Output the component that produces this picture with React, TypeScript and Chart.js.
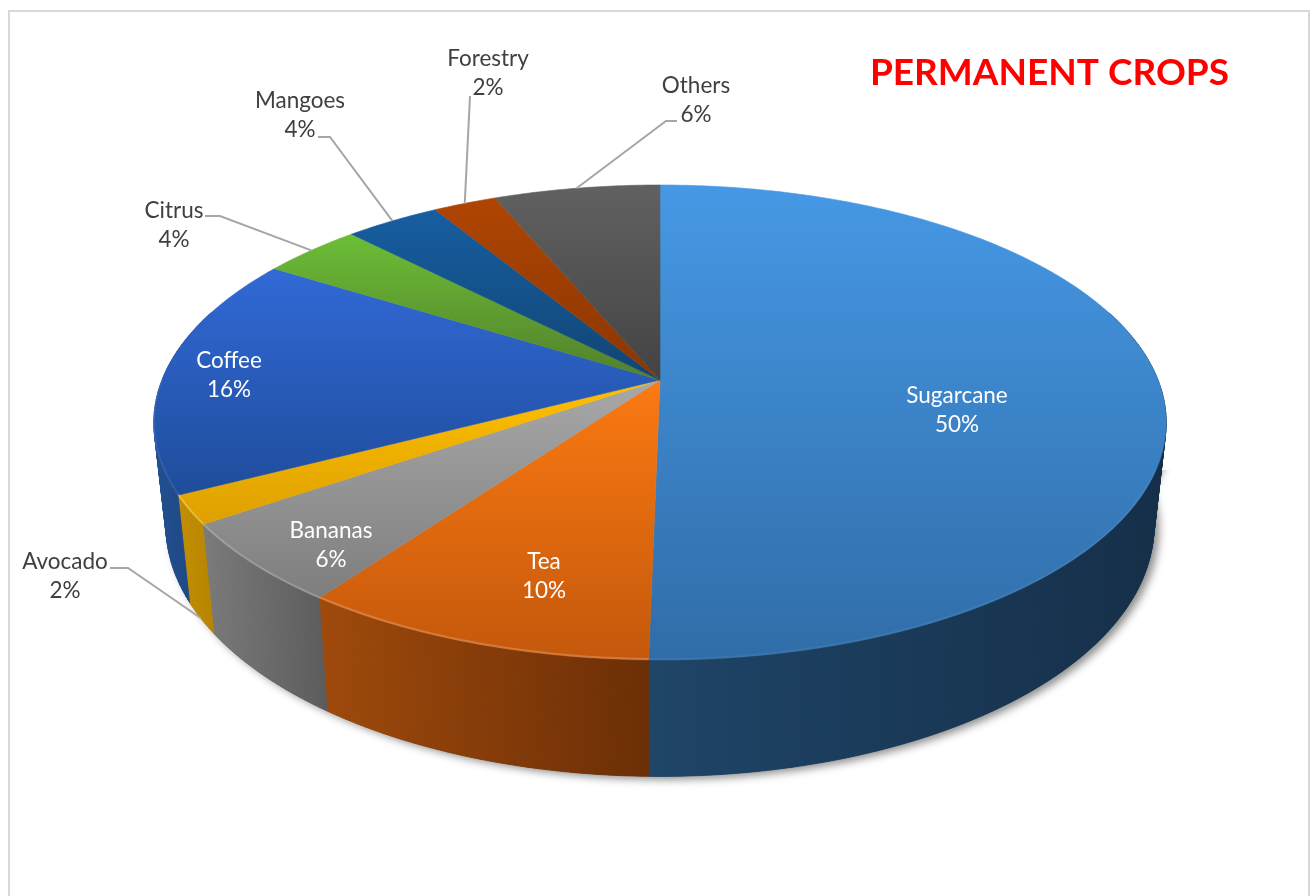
import React, { useEffect, useRef } from "react";
import { Chart, registerables } from "chart.js";

Chart.register(...registerables);

const categories = ["Sugarcane", "Tea", "Bananas", "Avocado", "Coffee", "Citrus", "Mangoes", "Forestry", "Others"];
const shares = [50.3, 9.65, 5.5, 1.95, 16.49, 3.8, 3.6, 2.4, 6.31];
const shownPercents = [50, 10, 6, 2, 16, 4, 4, 2, 6];
const topLight = ["#4698E5", "#FB7A12", "#A8A8A8", "#FFC000", "#3169D6", "#6CBE36", "#175EA1", "#B04502", "#616161"];
const topDark = ["#306DA8", "#C4580C", "#7E7E7E", "#DDA000", "#1F4D9C", "#527F2B", "#114573", "#8A3602", "#434343"];
const wallLight = ["#1F4568", "#A04A0C", "#7C7C7C", "#C69100", "#21508F", "#3F6A20", "#0E3A60", "#6F2B02", "#3A3A3A"];
const wallDark = ["#152F49", "#6C2F06", "#5C5C5C", "#B88600", "#1C4384", "#3F6A20", "#0E3A60", "#6F2B02", "#3A3A3A"];
const rimAlpha = [0.05, 0.2, 0.18, 0.25, 0.08, 0, 0, 0, 0];

const TITLE = "PERMANENT CROPS";
const LABEL_FONT = '22.5px Lato, "Open Sans", sans-serif';

// label placement: centre of the two-line block, and elbow of the leader line if any
const labelBoxes = [
  { x: 957, y: 410, inside: true },
  { x: 544, y: 576, inside: true },
  { x: 331, y: 545, inside: true },
  { x: 65, y: 576.5, inside: false, leader: [[110, 568], [128, 568]], onBase: true },
  { x: 229, y: 375.5, inside: true },
  { x: 174, y: 225, inside: false, leader: [[205, 216], [220, 216]] },
  { x: 300, y: 115, inside: false, leader: [[318, 137], [330, 137]] },
  { x: 488, y: 73, inside: false, leader: [[470, 96]] },
  { x: 696, y: 100, inside: false, leader: [[677, 121], [666, 121]] },
];

// perspective of the disc: apex position and projection constants
const AX = 660, AY = 380, PA = 229.9, PC = 0.179, PD = 498;
const BASE_SX = 0.976, BASE_SY = 1.055, BASE_Y = 481;

const project = (a: number) => {
  const u = Math.sin(a), v = Math.cos(a), w = 1 + PC * v;
  return { X: (PD * u) / w, Y: (-PA * v) / w };
};
const top = (a: number) => {
  const p = project(a);
  return [AX + p.X, AY + p.Y];
};
const base = (a: number) => {
  const p = project(a);
  return [AX + BASE_SX * p.X, BASE_Y + BASE_SY * p.Y];
};
const samples = (s: number, e: number) => {
  const n = Math.max(4, Math.ceil((e - s) * 90));
  const out: number[] = [];
  for (let i = 0; i <= n; i++) out.push(s + ((e - s) * i) / n);
  return out;
};
const quad = (ctx: any, a: number, b: number) => {
  const t0 = top(a), t1 = top(b), b1 = base(b), b0 = base(a);
  ctx.moveTo(t0[0], t0[1]);
  ctx.lineTo(t1[0], t1[1]);
  ctx.lineTo(b1[0], b1[1]);
  ctx.lineTo(b0[0], b0[1]);
  ctx.closePath();
};
const FRONT_FROM = Math.PI * 0.4;
const FRONT_TO = Math.PI * 1.6;

const pie3d = {
  id: "pie3d",
  beforeDraw(chart: any) {
    const ctx = chart.ctx;
    ctx.save();
    ctx.fillStyle = "#ffffff";
    ctx.fillRect(0, 0, chart.width, chart.height);
    ctx.strokeStyle = "#d9d9d9";
    ctx.lineWidth = 2;
    ctx.strokeRect(9, 11, 1300, 1000);
    ctx.restore();
  },
  beforeDatasetsDraw(chart: any) {
    const ctx = chart.ctx;
    const arcs = chart.getDatasetMeta(0).data;
    const ang = arcs.map((el: any) => {
      const p = el.getProps(["startAngle", "endAngle"], true);
      return [p.startAngle + Math.PI / 2, p.endAngle + Math.PI / 2];
    });
    ctx.save();

    // drop shadow under the extruded front, only below the widest part of the wall
    ctx.save();
    ctx.beginPath();
    ctx.rect(0, 470, chart.width, chart.height);
    ctx.clip();
    ctx.shadowColor = "rgba(0,0,0,0.45)";
    ctx.shadowBlur = 9;
    ctx.shadowOffsetX = 5;
    ctx.shadowOffsetY = 3;
    ctx.fillStyle = "#333";
    ctx.beginPath();
    const ring = samples(FRONT_FROM, FRONT_TO);
    ring.forEach((a, k) => {
      const [x, y] = base(a);
      k ? ctx.lineTo(x, y) : ctx.moveTo(x, y);
    });
    ring.slice().reverse().forEach((a) => {
      const [x, y] = top(a);
      ctx.lineTo(x, y);
    });
    ctx.closePath();
    ctx.fill();
    ctx.restore();

    // side walls
    ang.forEach(([s, e]: number[], i: number) => {
      const from = Math.max(s, FRONT_FROM);
      const to = Math.min(e, FRONT_TO);
      if (to <= from) return;
      const pts = samples(from, to);
      let minX = Infinity, maxX = -Infinity;
      pts.forEach((a) => {
        const t = top(a), b = base(a);
        minX = Math.min(minX, t[0], b[0]);
        maxX = Math.max(maxX, t[0], b[0]);
      });
      const g = ctx.createLinearGradient(minX, 0, maxX, 0);
      g.addColorStop(0, wallLight[i]);
      g.addColorStop(1, wallDark[i]);
      ctx.fillStyle = g;
      ctx.strokeStyle = g;
      ctx.lineWidth = 0.7;
      for (let k = 0; k < pts.length - 1; k++) {
        ctx.beginPath();
        quad(ctx, pts[k], pts[k + 1]);
        ctx.fill();
        ctx.stroke();
      }
    });

    // top faces
    ang.forEach(([s, e]: number[], i: number) => {
      const pts = samples(s, e);
      let minY = AY, maxY = AY;
      pts.forEach((a) => {
        const y = top(a)[1];
        minY = Math.min(minY, y);
        maxY = Math.max(maxY, y);
      });
      const g = ctx.createLinearGradient(0, minY, 0, maxY);
      g.addColorStop(0, topLight[i]);
      g.addColorStop(1, topDark[i]);
      ctx.fillStyle = g;
      ctx.strokeStyle = g;
      ctx.lineWidth = 0.6;
      ctx.beginPath();
      ctx.moveTo(AX, AY);
      pts.forEach((a) => {
        const [x, y] = top(a);
        ctx.lineTo(x, y);
      });
      ctx.closePath();
      ctx.fill();
      ctx.stroke();
    });

    // soft bevel along the front rim
    ang.forEach(([s, e]: number[], i: number) => {
      const from = Math.max(s, Math.PI * 0.62);
      const to = Math.min(e, Math.PI * 1.5);
      if (to <= from || !rimAlpha[i]) return;
      ctx.strokeStyle = `rgba(255,255,255,${rimAlpha[i]})`;
      ctx.lineWidth = 2;
      ctx.beginPath();
      samples(from, to).forEach((a, k) => {
        const [x, y] = top(a);
        k ? ctx.lineTo(x, y - 1) : ctx.moveTo(x, y - 1);
      });
      ctx.stroke();
    });
    ctx.restore();
    return false;
  },
  afterDraw(chart: any) {
    const ctx = chart.ctx;
    const arcs = chart.getDatasetMeta(0).data;
    ctx.save();
    labelBoxes.forEach((box: any, i) => {
      if (box.leader) {
        const p = arcs[i].getProps(["startAngle", "endAngle"], true);
        const mid = (p.startAngle + p.endAngle) / 2 + Math.PI / 2;
        const end = box.onBase ? base(mid) : top(mid);
        ctx.strokeStyle = "#a6a6a6";
        ctx.lineWidth = 2;
        ctx.beginPath();
        box.leader.forEach(([x, y]: number[], k: number) => (k ? ctx.lineTo(x, y) : ctx.moveTo(x, y)));
        ctx.lineTo(end[0], end[1]);
        ctx.stroke();
      }
      ctx.font = LABEL_FONT;
      ctx.textAlign = "center";
      ctx.textBaseline = "middle";
      ctx.fillStyle = box.inside ? "#ffffff" : "#404040";
      ctx.fillText(categories[i], box.x, box.y - 14.5);
      ctx.fillText(shownPercents[i] + "%", box.x, box.y + 14.5);
    });
    ctx.restore();
  },
};

export default function App() {
  const ref = useRef<HTMLCanvasElement>(null);
  useEffect(() => {
    const chart = new Chart(ref.current as HTMLCanvasElement, {
      type: "pie",
      data: {
        labels: categories,
        datasets: [{ data: shares, backgroundColor: topLight, borderWidth: 0 }],
      },
      options: {
        animation: false,
        responsive: false,
        layout: { padding: { right: 81 } },
        plugins: {
          legend: { display: false },
          tooltip: { enabled: false },
          title: {
            display: true,
            text: TITLE,
            align: "end",
            color: "#ff0000",
            font: { family: 'Lato, "Open Sans", sans-serif', size: 37, weight: "bold" },
            padding: { top: 51, bottom: 0 },
          },
        },
      },
      plugins: [pie3d],
    } as any);
    return () => chart.destroy();
  }, []);
  return (
    <div style={{ position: "absolute", left: 0, top: 0, width: 1310, height: 896, overflow: "hidden", background: "#fff" }}>
      <canvas ref={ref} width={1310} height={896} style={{ display: "block" }} />
    </div>
  );
}
